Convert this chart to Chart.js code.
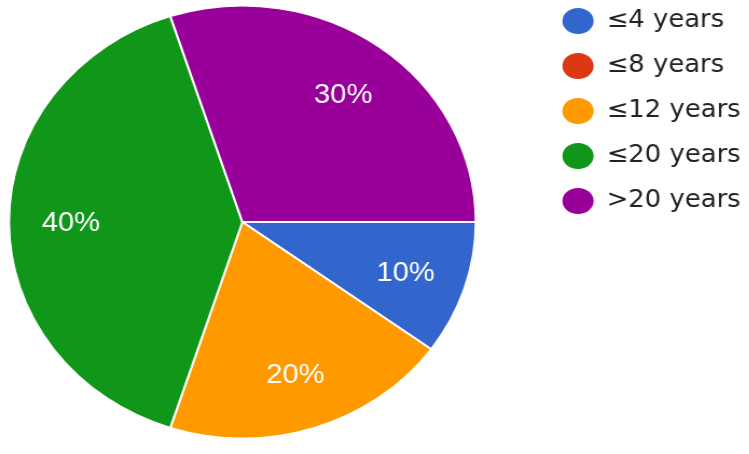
<!DOCTYPE html>
<html>
<head>
<meta charset="utf-8">
<script src="https://cdn.jsdelivr.net/npm/chart.js@4.4.0/dist/chart.umd.min.js"></script>
<style>
    html, body { margin: 0; padding: 0; background: #fff; overflow: hidden; }
    body { width: 749px; height: 454px; position: relative; }
    /* the source picture is a little wider than tall, so stretch the whole chart */
    .stretch { position: absolute; left: 0; top: 0; transform: scaleX(1.078); transform-origin: 0 0; }
    #pie { position: absolute; left: -51px; top: -12px; }
</style>
</head>
<body>
<div class="stretch"><canvas id="pie" width="748" height="468"></canvas></div>
<script>
const categories = ['≤4 years', '≤8 years', '≤12 years', '≤20 years', '>20 years'];
const shares = [10, 0, 20, 40, 30];
const sliceColors = ['#3366cc', '#dc3912', '#ff9900', '#109618', '#990099'];

// percent text inside each slice
const sliceLabels = {
    id: 'sliceLabels',
    afterDatasetsDraw(chart) {
        const ctx = chart.ctx;
        const meta = chart.getDatasetMeta(0);
        const total = shares.reduce((a, b) => a + b, 0);
        ctx.save();
        ctx.fillStyle = '#ffffff';
        ctx.font = '27px "Liberation Sans", Arial, sans-serif';
        ctx.textAlign = 'center';
        ctx.textBaseline = 'middle';
        meta.data.forEach((arc, i) => {
            if (!shares[i]) return;
            const { x, y, startAngle, endAngle, outerRadius } =
                arc.getProps(['x', 'y', 'startAngle', 'endAngle', 'outerRadius'], true);
            const mid = (startAngle + endAngle) / 2;
            const r = outerRadius * 0.735;
            const pct = Math.round(shares[i] / total * 100) + '%';
            ctx.fillText(pct, x + Math.cos(mid) * r, y + Math.sin(mid) * r + 2);
        });
        ctx.restore();
    }
};

const ctx = document.getElementById('pie').getContext('2d');
new Chart(ctx, {
    type: 'pie',
    data: {
        labels: categories,
        datasets: [{
            data: shares,
            backgroundColor: sliceColors,
            borderColor: '#ffffff',
            borderWidth: 2,
            hoverOffset: 0
        }]
    },
    options: {
        responsive: false,
        animation: false,
        events: [],
        rotation: 90,
        radius: 216.5,
        layout: { padding: 0 },
        plugins: {
            tooltip: { enabled: false },
            legend: {
                position: 'right',
                align: 'start',
                labels: {
                    usePointStyle: true,
                    pointStyle: 'circle',
                    boxHeight: 18.4,
                    pointStyleWidth: 29,
                    padding: 21,
                    color: '#222222',
                    font: { family: '"DejaVu Sans", sans-serif', size: 24 },
                    generateLabels(chart) {
                        const items = Chart.overrides.doughnut.plugins.legend.labels.generateLabels(chart);
                        items.forEach(item => { item.lineWidth = 0; });
                        return items;
                    }
                }
            }
        }
    },
    plugins: [sliceLabels]
});
</script>
</body>
</html>
